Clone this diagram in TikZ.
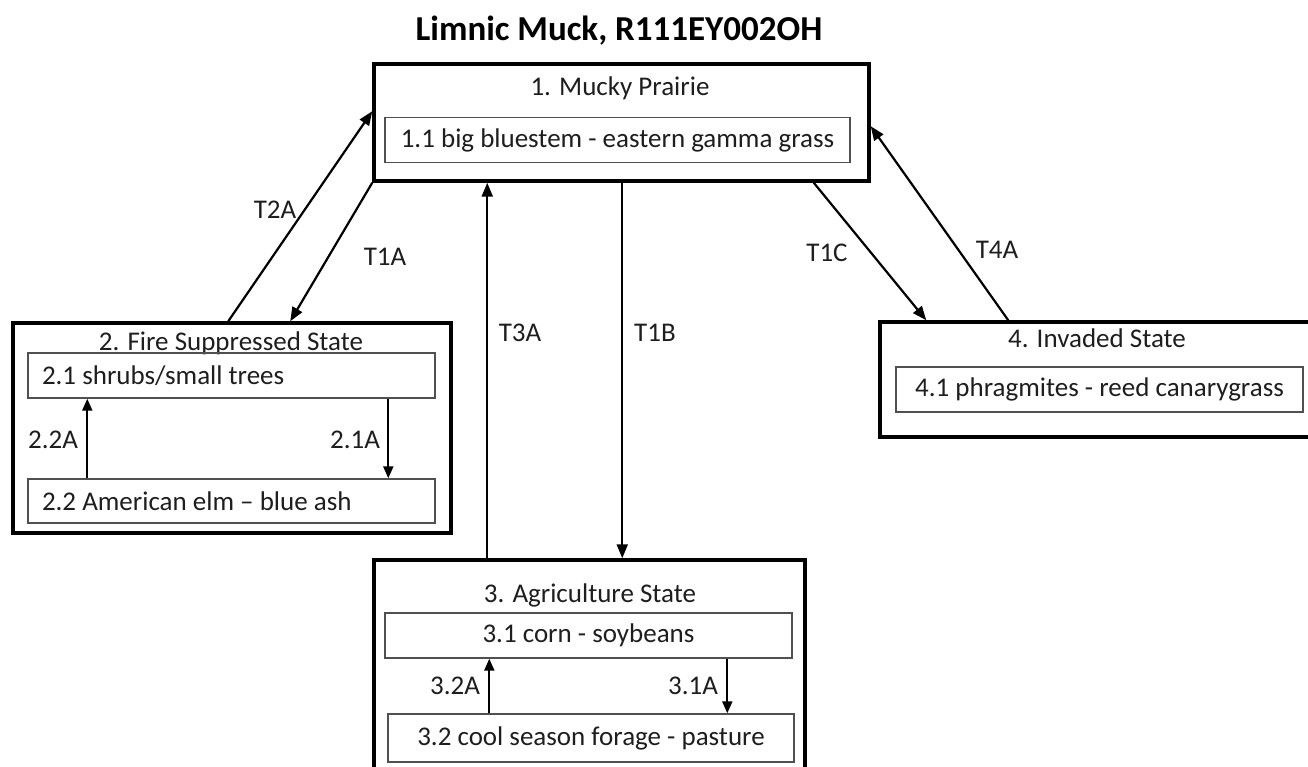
\documentclass[tikz,border=0pt]{standalone}
\usepackage{fontspec}
\setmainfont{Carlito}
\usetikzlibrary{arrows.meta}
\definecolor{txt}{HTML}{1E1E1E}
\definecolor{inner}{HTML}{505050}
\begin{document}
\begin{tikzpicture}[x=1pt,y=-1pt,
  every node/.style={font=\fontsize{27}{31}\selectfont, text=txt},
  outerbox/.style={draw=black, line width=3.5pt, minimum width=#1, inner sep=0pt},
  innerbox/.style={draw=inner, line width=1.4pt, inner sep=0pt, minimum height=45pt},
  lbl/.style={inner sep=0pt},
  conn/.style={draw=black, line width=2.2pt, -{Triangle[length=14pt,width=11pt]}},
  small/.style={draw=black, line width=2pt, -{Triangle[length=12pt,width=10pt]}}
]
\useasboundingbox (0,0) rectangle (1308,767);
\fill[white] (0,0) rectangle (1308,767);

% title
\node[lbl, font=\fontsize{35}{40}\selectfont\bfseries, text=black] (title) at (619,31) {Limnic Muck, R111EY002OH};

% state 1
\node[outerbox=495pt, minimum height=117pt] (s1) at (621.5,122.5) {};
\node[lbl] (t1) at (620,88) {1. Mucky Prairie};
\node[innerbox, minimum width=465pt] (b11) at (617.5,140) {1.1 big bluestem - eastern gamma grass};

% state 2
\node[outerbox=438pt, minimum height=210pt] (s2) at (232,428) {};
\node[lbl] (t2) at (231,343) {2. Fire Suppressed State};
\node[innerbox, minimum width=407pt] (b21) at (231.5,375.5) {\makebox[379pt][l]{2.1 shrubs/small trees}};
\node[innerbox, minimum width=407pt, minimum height=44pt] (b22) at (231.5,501) {\makebox[379pt][l]{2.2 American elm -- blue ash}};

% state 3
\node[outerbox=431pt, minimum height=214pt] (s3) at (589.5,667) {};
\node[lbl] (t3) at (590,595) {3. Agriculture State};
\node[innerbox, minimum width=407pt] (b31) at (588.5,635.5) {3.1 corn - soybeans};
\node[innerbox, minimum width=406pt, minimum height=48pt] (b32) at (591,738) {3.2 cool season forage - pasture};

% state 4
\node[outerbox=432pt, minimum height=115pt] (s4) at (1096,379.5) {};
\node[lbl] (t4) at (1097,338) {4. Invaded State};
\node[innerbox, minimum width=407pt] (b41) at (1099.5,389.5) {4.1 phragmites - reed canarygrass};

% transitions between states
\draw[conn] ([xshift=217pt]s2.north west) -- ([yshift=-49pt]s1.north west);
\draw[conn] (s1.south west) -- ([xshift=279pt]s2.north west);
\draw[conn] ([xshift=115pt]s3.north west) -- ([xshift=115pt]s1.south west);
\draw[conn] ([xshift=250pt]s1.south west) -- ([xshift=250pt]s3.north west);
\draw[conn] ([xshift=-57pt]s1.south east) -- ([xshift=48pt]s4.north west);
\draw[conn] ([xshift=130pt]s4.north west) -- ([yshift=-64pt]s1.north east);

% within-state transitions
\draw[small] ([xshift=60pt]b22.north west) -- ([xshift=60pt]b21.south west);
\draw[small] ([xshift=361pt]b21.south west) -- ([xshift=361pt]b22.north west);
\draw[small] ([xshift=102pt]b32.north west) -- ([xshift=105pt]b31.south west);
\draw[small] ([xshift=343pt]b31.south west) -- ([xshift=340pt]b32.north west);

% labels
\node[lbl] (lT2A) at (275,210) {T2A};
\node[lbl] (lT1A) at (385,257) {T1A};
\node[lbl] (lT3A) at (520,333) {T3A};
\node[lbl] (lT1B) at (655,333) {T1B};
\node[lbl] (lT1C) at (827,253) {T1C};
\node[lbl] (lT4A) at (997,250) {T4A};
\node[lbl] (l22A) at (53,440) {2.2A};
\node[lbl] (l21A) at (355,440) {2.1A};
\node[lbl] (l32A) at (455,686) {3.2A};
\node[lbl] (l31A) at (693,686) {3.1A};
\end{tikzpicture}
\end{document}
